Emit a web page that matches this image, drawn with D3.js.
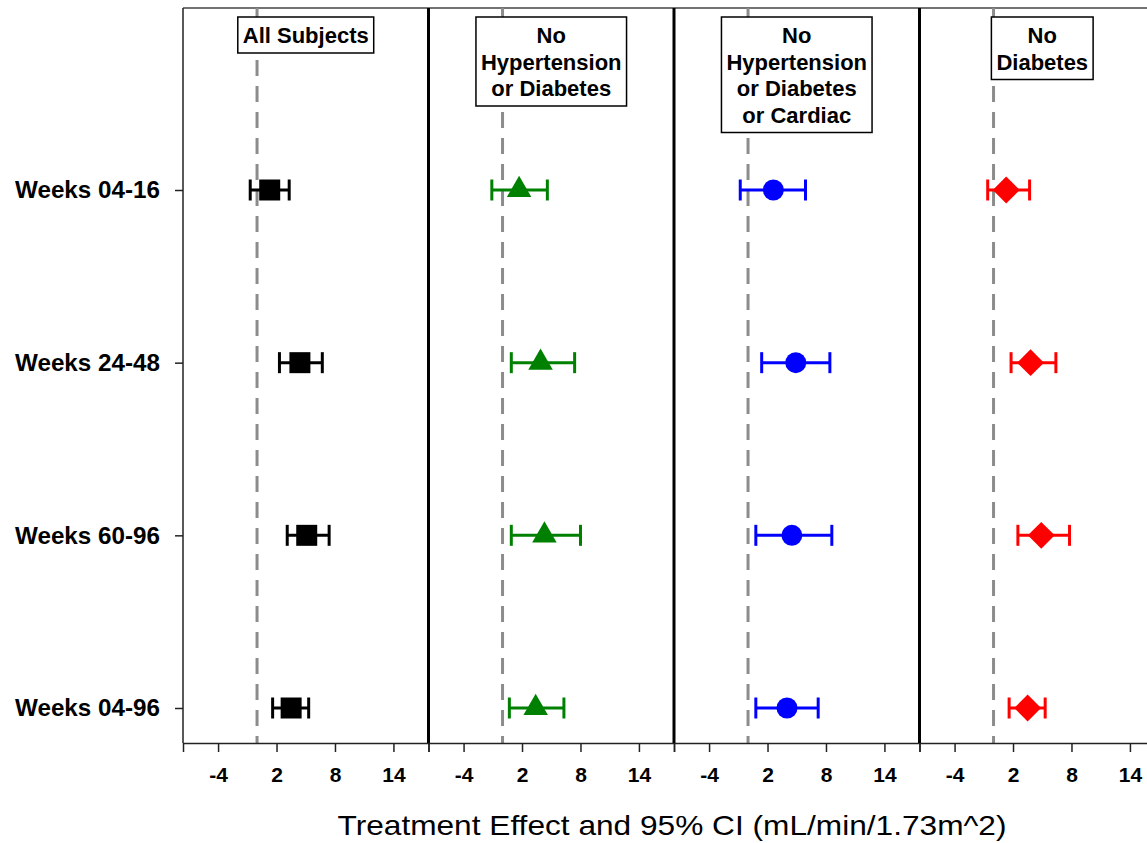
<!DOCTYPE html>
<html>
<head>
<meta charset="utf-8">
<script src="https://cdn.jsdelivr.net/npm/d3@7"></script>
<style>
  body { margin: 0; background: #fff; }
  svg { display: block; font-family: "Liberation Sans", Arial, sans-serif; }
</style>
</head>
<body>
<div id="chart"></div>
<script>
// rows (y categories)
const periods = ["Weeks 04-16", "Weeks 24-48", "Weeks 60-96", "Weeks 04-96"];

// panel headers, one entry per line
const groupLabels = [
    ["All Subjects"],
    ["No", "Hypertension", "or Diabetes"],
    ["No", "Hypertension", "or Diabetes", "or Cardiac"],
    ["No", "Diabetes"]
];

// treatment effect and 95% CI
const allSubjectsEst  = [1.3, 4.4, 5.1, 3.5];
const allSubjectsLow  = [-0.7, 2.3, 3.1, 1.6];
const allSubjectsHigh = [3.3, 6.7, 7.4, 5.3];

const noHtnDmEst  = [1.7, 3.9, 4.3, 3.4];
const noHtnDmLow  = [-1.1, 0.9, 0.9, 0.7];
const noHtnDmHigh = [4.6, 7.4, 8.0, 6.3];

const noHtnDmCardEst  = [2.6, 4.9, 4.5, 4.0];
const noHtnDmCardLow  = [-0.8, 1.4, 0.8, 0.8];
const noHtnDmCardHigh = [5.9, 8.4, 8.6, 7.2];

const noDmEst  = [1.3, 3.8, 4.9, 3.5];
const noDmLow  = [-0.6, 1.8, 2.5, 1.6];
const noDmHigh = [3.7, 6.4, 7.8, 5.3];

const xTicks = [-4, 2, 8, 14];

const groups = [
    { est: allSubjectsEst, low: allSubjectsLow, high: allSubjectsHigh, color: "#000000", symbol: "square" },
    { est: noHtnDmEst, low: noHtnDmLow, high: noHtnDmHigh, color: "#008000", symbol: "triangle" },
    { est: noHtnDmCardEst, low: noHtnDmCardLow, high: noHtnDmCardHigh, color: "#0000ff", symbol: "circle" },
    { est: noDmEst, low: noDmLow, high: noDmHigh, color: "#ff0000", symbol: "diamond" }
];

const width = 1147, height = 843;
const plotLeft = 183, plotTop = 8, plotBottom = 743;
const panelW = 245.5;
const fontStack = "'Liberation Sans', Arial, sans-serif";

const svg = d3.select("#chart").append("svg")
    .attr("width", width)
    .attr("height", height);

const y = d3.scalePoint()
    .domain(periods)
    .range([190, 708]);

// one x scale per panel
const xScales = groups.map((g, i) => d3.scaleLinear()
    .domain([-7.6, 17.6])
    .range([plotLeft + i * panelW, plotLeft + (i + 1) * panelW]));

// top frame line
svg.append("line")
    .attr("x1", plotLeft).attr("x2", plotLeft + 4 * panelW)
    .attr("y1", plotTop).attr("y2", plotTop)
    .attr("stroke", "#444").attr("stroke-width", 1.5);

groups.forEach((g, i) => {
    const x = xScales[i];
    const panel = svg.append("g");

    // reference line at zero
    panel.append("line")
        .attr("x1", x(0)).attr("x2", x(0))
        .attr("y1", plotTop).attr("y2", plotBottom)
        .attr("stroke", "#8c8c8c")
        .attr("stroke-width", 3)
        .attr("stroke-dasharray", "16,10");

    // header box
    const lines = groupLabels[i];
    const lineH = 26.5;
    const boxTop = plotTop + 9;
    const header = panel.append("g");
    const txt = header.append("text")
        .attr("text-anchor", "middle")
        .attr("font-size", 22)
        .attr("font-weight", "bold")
        .attr("fill", "#000");
    lines.forEach((l, k) => {
        txt.append("tspan")
            .attr("x", x(5))
            .attr("y", boxTop + 26 + lineH * k)
            .text(l);
    });
    const bb = txt.node().getBBox();
    header.insert("rect", "text")
        .attr("x", bb.x - 5)
        .attr("y", boxTop)
        .attr("width", bb.width + 10)
        .attr("height", 36 + (lines.length - 1) * lineH)
        .attr("fill", "#fff")
        .attr("stroke", "#000")
        .attr("stroke-width", 1.5);

    // error bars
    const capH = 21;
    periods.forEach((p, k) => {
        const cy = y(p);
        const bar = panel.append("g")
            .attr("stroke", g.color)
            .attr("stroke-width", 3);
        bar.append("line")
            .attr("x1", x(g.low[k])).attr("x2", x(g.high[k]))
            .attr("y1", cy).attr("y2", cy);
        bar.append("line")
            .attr("x1", x(g.low[k])).attr("x2", x(g.low[k]))
            .attr("y1", cy - capH / 2).attr("y2", cy + capH / 2);
        bar.append("line")
            .attr("x1", x(g.high[k])).attr("x2", x(g.high[k]))
            .attr("y1", cy - capH / 2).attr("y2", cy + capH / 2);
    });

    // markers
    let sym, size, rot = 0;
    if (g.symbol === "square") { sym = d3.symbolSquare; size = 441; }
    if (g.symbol === "triangle") { sym = d3.symbolTriangle; size = 260; }
    if (g.symbol === "circle") { sym = d3.symbolCircle; size = 346; }
    if (g.symbol === "diamond") { sym = d3.symbolSquare; size = 361; rot = 45; }

    panel.selectAll("path.marker")
        .data(periods)
        .join("path")
        .attr("class", "marker")
        .attr("d", d3.symbol().type(sym).size(size))
        .attr("transform", (p, k) => `translate(${x(g.est[k])},${y(p)}) rotate(${rot})`)
        .attr("fill", g.color);

    // x axis
    const axis = svg.append("g")
        .attr("transform", `translate(0,${plotBottom})`)
        .call(d3.axisBottom(x).tickValues(xTicks).tickSize(9).tickPadding(15).tickFormat(d => String(d)));
    axis.select(".domain").attr("stroke", "#222").attr("stroke-width", 1.5);
    axis.selectAll(".tick line").attr("stroke", "#222").attr("stroke-width", 1.5);
    axis.selectAll(".tick text")
        .attr("font-size", 21)
        .attr("font-weight", "bold")
        .attr("font-family", fontStack)
        .attr("fill", "#000");
});

// panel separators
[1, 2, 3].forEach(i => {
    svg.append("line")
        .attr("x1", plotLeft + i * panelW).attr("x2", plotLeft + i * panelW)
        .attr("y1", plotTop).attr("y2", plotBottom)
        .attr("stroke", "#000").attr("stroke-width", 3);
});

// y axis
const yAxis = svg.append("g")
    .attr("transform", `translate(${plotLeft},0)`)
    .call(d3.axisLeft(y).tickSize(8).tickPadding(15).tickSizeOuter(0));
yAxis.select(".domain")
    .attr("d", `M0,${plotTop}V${plotBottom}`)
    .attr("stroke", "#222").attr("stroke-width", 1.5);
yAxis.selectAll(".tick line").attr("stroke", "#222").attr("stroke-width", 1.5);
yAxis.selectAll(".tick text")
    .attr("font-size", 24)
    .attr("font-weight", "bold")
    .attr("font-family", fontStack)
    .attr("textLength", 145)
    .attr("lengthAdjust", "spacingAndGlyphs")
    .attr("fill", "#000");

// x axis title
svg.append("text")
    .attr("x", 672)
    .attr("y", 835)
    .attr("text-anchor", "middle")
    .attr("font-size", 28)
    .attr("textLength", 669)
    .attr("lengthAdjust", "spacingAndGlyphs")
    .attr("fill", "#000")
    .text("Treatment Effect and 95% CI (mL/min/1.73m^2)");
</script>
</body>
</html>
